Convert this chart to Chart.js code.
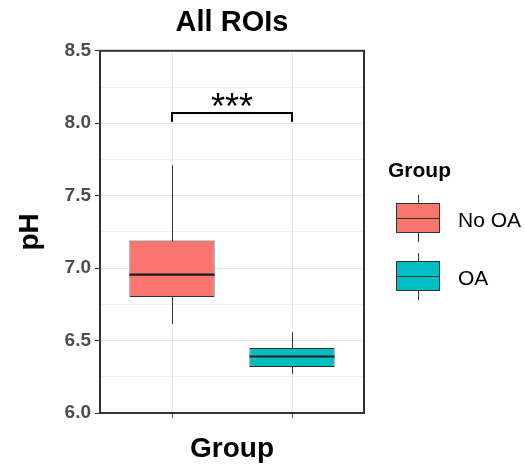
<!DOCTYPE html>
<html>
<head>
<meta charset="utf-8">
<script src="https://cdn.jsdelivr.net/npm/chart.js@4.4.1/dist/chart.umd.min.js"></script>
<style>
  body { margin: 0; background: #fff; }
  #wrap { position: relative; width: 524px; height: 469px; }
  #legend { position: absolute; left: 0; top: 0; font-family: 'Liberation Sans', Arial, sans-serif; color: #000; }
  .lg-title { position: absolute; left: 388px; top: 159px; font-size: 21px; line-height: 21px; font-weight: bold; }
  .lg-item { position: absolute; left: 396px; width: 130px; height: 47px; }
  .lg-whisker { position: absolute; left: 22px; top: 0; width: 1px; height: 47px; background: #333; }
  .lg-box { position: absolute; left: 0; top: 8px; width: 44px; height: 30px; border: 1px solid #333; box-sizing: border-box; }
  .lg-median { position: absolute; left: 0; top: 23px; width: 44px; height: 1px; background: #333; }
  .lg-label { position: absolute; left: 62px; top: 14px; font-size: 21px; line-height: 21px; white-space: nowrap; }
</style>
</head>
<body>
<div id="wrap">
  <canvas id="chart" width="524" height="469"></canvas>
  <div id="legend"></div>
</div>
<script>
// box plot summary per group
const groups = ['No OA', 'OA'];
const colors = ['#F8766D', '#00BFC4'];
const whiskerLow = [6.615, 6.27];
const q1 = [6.80, 6.317];
const medians = [6.955, 6.39];
const q3 = [7.19, 6.448];
const whiskerHigh = [7.71, 6.558];
const yTicks = [6.0, 6.5, 7.0, 7.5, 8.0, 8.5];

// significance bracket
const sigPair = [0, 1];
const sigY = 8.07;
const sigDrop = 0.06;
const sigLabel = '***';

const FONT = "'Liberation Sans', Arial, sans-serif";

function isMajor(v) {
    return yTicks.some(t => Math.abs(t - v) < 1e-6);
}

const boxPlugin = {
    id: 'boxExtras',
    beforeDatasetsDraw(chart) {
        const ctx = chart.ctx;
        const x = chart.scales.x, y = chart.scales.y;
        ctx.save();
        ctx.strokeStyle = '#333';
        ctx.lineWidth = 1;
        for (let i = 0; i < groups.length; i++) {
            const px = Math.round(x.getPixelForValue(i)) + 0.5;
            ctx.beginPath();
            ctx.moveTo(px, y.getPixelForValue(whiskerLow[i]));
            ctx.lineTo(px, y.getPixelForValue(whiskerHigh[i]));
            ctx.stroke();
        }
        ctx.restore();
    },
    afterDatasetsDraw(chart) {
        const ctx = chart.ctx;
        const x = chart.scales.x, y = chart.scales.y;
        const area = chart.chartArea;
        const meta = chart.getDatasetMeta(0);
        ctx.save();
        // medians
        ctx.strokeStyle = '#1a1a1a';
        ctx.lineWidth = 2.2;
        meta.data.forEach((bar, i) => {
            const half = bar.width / 2;
            const py = y.getPixelForValue(medians[i]);
            ctx.beginPath();
            ctx.moveTo(bar.x - half, py);
            ctx.lineTo(bar.x + half, py);
            ctx.stroke();
        });
        // panel border
        ctx.strokeStyle = '#333';
        ctx.lineWidth = 2;
        ctx.strokeRect(area.left, area.top, area.right - area.left, area.bottom - area.top);
        // significance bracket
        const x1 = x.getPixelForValue(sigPair[0]);
        const x2 = x.getPixelForValue(sigPair[1]);
        const yb = y.getPixelForValue(sigY);
        const yd = y.getPixelForValue(sigY - sigDrop);
        ctx.strokeStyle = '#000';
        ctx.lineWidth = 2;
        ctx.beginPath();
        ctx.moveTo(x1, yd);
        ctx.lineTo(x1, yb);
        ctx.lineTo(x2, yb);
        ctx.lineTo(x2, yd);
        ctx.stroke();
        ctx.fillStyle = '#000';
        ctx.font = '36px ' + FONT;
        ctx.textAlign = 'center';
        ctx.textBaseline = 'alphabetic';
        ctx.fillText(sigLabel, (x1 + x2) / 2, yb + 6);
        ctx.restore();
    }
};

const ctx = document.getElementById('chart').getContext('2d');
const myChart = new Chart(ctx, {
    type: 'bar',
    data: {
        datasets: [{
            data: groups.map((g, i) => ({ x: i, y: [q1[i], q3[i]] })),
            backgroundColor: colors,
            borderColor: '#333',
            borderWidth: 1,
            borderSkipped: false,
            barPercentage: 0.71,
            categoryPercentage: 1
        }]
    },
    options: {
        responsive: false,
        animation: false,
        layout: { padding: { left: 9, right: 160, top: 0, bottom: 0 } },
        plugins: {
            legend: { display: false },
            tooltip: { enabled: false },
            title: {
                display: true,
                text: 'All ROIs',
                fullSize: false,
                color: '#000',
                font: { family: FONT, size: 29, weight: 'bold' },
                padding: { top: 6, bottom: 10 }
            }
        },
        scales: {
            x: {
                type: 'linear',
                min: -0.6,
                max: 1.6,
                offset: false,
                afterBuildTicks: s => { s.ticks = groups.map((g, i) => ({ value: i })); },
                afterFit: s => { s.height = 56; },
                ticks: { display: true, callback: () => '', padding: 0 },
                grid: { offset: false, color: '#ebebeb', lineWidth: 1, tickColor: '#555', tickLength: 5 },
                border: { display: false },
                title: {
                    display: true,
                    text: 'Group',
                    color: '#000',
                    font: { family: FONT, size: 28, weight: 'bold' },
                    padding: { top: 0, bottom: 3 }
                }
            },
            y: {
                min: 6,
                max: 8.5,
                afterFit: s => { s.width = 91; },
                ticks: {
                    stepSize: 0.25,
                    autoSkip: false,
                    padding: 4,
                    color: '#4d4d4d',
                    font: { family: FONT, size: 19, weight: 'bold' },
                    callback: v => isMajor(v) ? v.toFixed(1) : ''
                },
                grid: {
                    color: c => isMajor(c.tick.value) ? '#e6e6e6' : '#f0f0f0',
                    lineWidth: 1,
                    tickLength: 5,
                    tickColor: c => isMajor(c.tick.value) ? '#333' : 'rgba(0,0,0,0)'
                },
                border: { display: false },
                title: {
                    display: true,
                    text: 'pH',
                    color: '#000',
                    font: { family: FONT, size: 28, weight: 'bold' },
                    padding: { top: 4, bottom: 0 }
                }
            }
        }
    },
    plugins: [boxPlugin]
});

// legend
const legend = document.getElementById('legend');
let html = '<div class="lg-title">Group</div>';
groups.forEach((g, i) => {
    html += '<div class="lg-item" style="top:' + (195 + 58 * i) + 'px">' +
        '<div class="lg-whisker"></div>' +
        '<div class="lg-box" style="background:' + colors[i] + '"></div>' +
        '<div class="lg-median"></div>' +
        '<div class="lg-label">' + g + '</div></div>';
});
legend.innerHTML = html;
</script>
</body>
</html>
